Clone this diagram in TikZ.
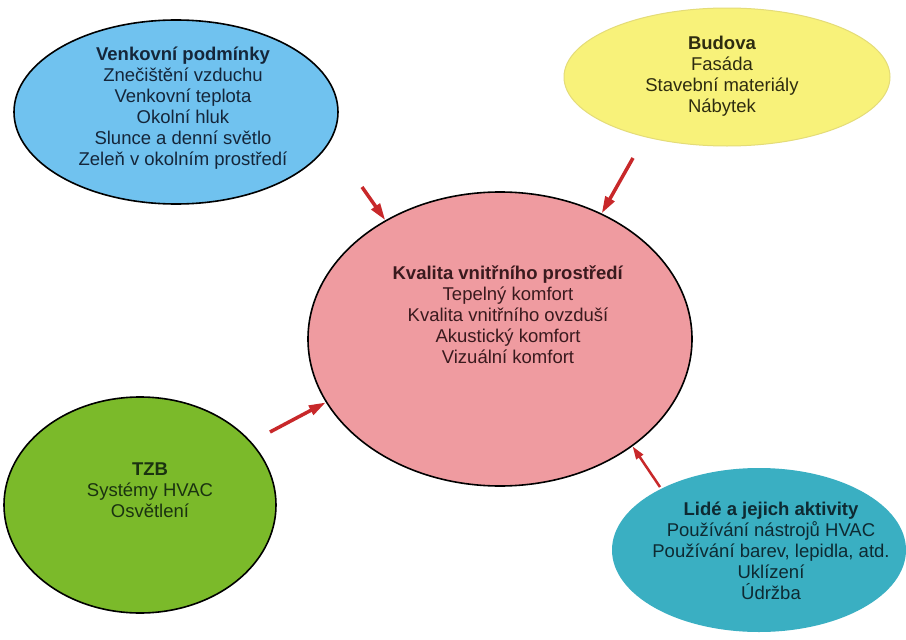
\documentclass[tikz,border=0pt]{standalone}
\usepackage{fontspec}
\setmainfont{Liberation Sans}
\usetikzlibrary{shapes.geometric,arrows.meta}
\definecolor{cblue}{HTML}{70C2EF}
\definecolor{cyellow}{HTML}{F8F27A}
\definecolor{cyellowb}{HTML}{E4DC78}
\definecolor{cpink}{HTML}{EF9BA0}
\definecolor{cgreen}{HTML}{7BBA2A}
\definecolor{cteal}{HTML}{3AAFC2}
\definecolor{cred}{HTML}{C8282A}
\definecolor{tblue}{HTML}{15263A}
\definecolor{tyellow}{HTML}{2E2C10}
\definecolor{tpink}{HTML}{3A1A1E}
\definecolor{tgreen}{HTML}{1A3210}
\definecolor{tteal}{HTML}{0E2A32}
\tikzset{
  blob/.style={ellipse, inner sep=0pt, line width=1.6pt},
  txt/.style={align=center, font=\fontsize{18.5}{21}\selectfont, inner sep=0pt},
  arr/.style={draw=cred, line width=3.5pt, -{Triangle[length=17pt,width=10pt]}},
}
\begin{document}
\begin{tikzpicture}[x=1pt,y=-1pt]
\useasboundingbox[fill=white] (0,0) rectangle (906,640);
% ellipses
\node[blob, draw=black, fill=cblue, minimum width=324pt, minimum height=184pt] (blue) at (176,112) {};
\node[blob, draw=cyellowb, line width=1pt, fill=cyellow, minimum width=326pt, minimum height=138pt] (yellow) at (727,77) {};
\node[blob, draw=black, fill=cpink, minimum width=384pt, minimum height=294pt] (pink) at (500,339) {};
\node[blob, draw=black, fill=cgreen, minimum width=272pt, minimum height=216pt] (green) at (140,505) {};
\node[blob, draw=none, fill=cteal, minimum width=294pt, minimum height=164pt] (teal) at (759,550) {};
% texts
\node[txt, text=tblue] (tb) at (183,108) {\textbf{Venkovní podmínky}\\Znečištění vzduchu\\Venkovní teplota\\Okolní hluk\\Slunce a denní světlo\\Zeleň v okolním prostředí};
\node[txt, text=tyellow] (ty) at (722,76) {\textbf{Budova}\\Fasáda\\Stavební materiály\\Nábytek};
\node[txt, text=tpink] (tp) at (508,315) {\textbf{Kvalita vnitřního prostředí}\\Tepelný komfort\\Kvalita vnitřního ovzduší\\Akustický komfort\\Vizuální komfort};
\node[txt, text=tgreen] (tg) at (150,490) {\textbf{TZB}\\Systémy HVAC\\Osvětlení};
\node[txt, text=tteal] (tt) at (771,551) {\textbf{Lidé a jejich aktivity}\\Používání nástrojů HVAC\\Používání barev, lepidla, atd.\\Uklízení\\Údržba};
% arrows
\coordinate (a1) at (362,187);
\coordinate (a2) at (633,158);
\coordinate (a3) at (270,432);
\coordinate (a4) at (660,487);
\draw[arr] (a1) -- (pink.134);
\draw[arr] (a2) -- (pink.51);
\draw[arr] (a3) -- (pink.200);
\draw[arr, line width=2.5pt, -{Triangle[length=13pt,width=8pt]}] (a4) -- (pink.-39);
\end{tikzpicture}
\end{document}
